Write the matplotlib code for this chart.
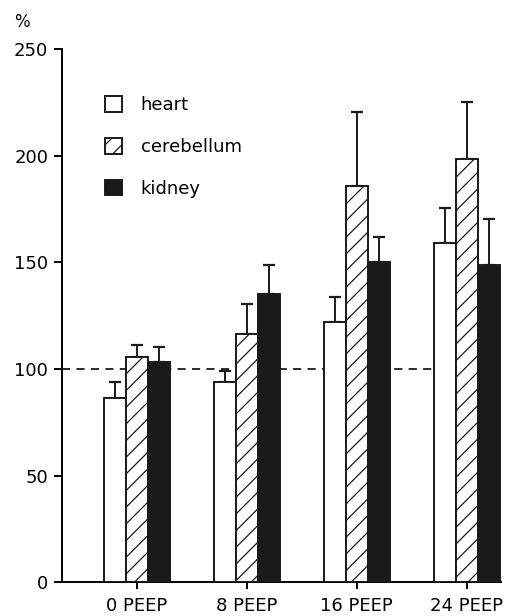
import matplotlib
matplotlib.use("Agg")
import matplotlib.pyplot as plt
import numpy as np
from matplotlib.patches import Patch

groups = ["0 PEEP", "8 PEEP", "16 PEEP", "24 PEEP"]
series = ["heart", "cerebellum", "kidney"]
heart = [86.3, 94.1, 122.0, 159.0]
heart_err = [7.5, 5.1, 12.0, 16.4]
cerebellum = [105.5, 116.5, 185.9, 198.4]
cerebellum_err = [5.8, 13.9, 34.8, 26.7]
kidney = [103.2, 135.2, 150.4, 148.8]
kidney_err = [7.0, 13.6, 11.4, 21.5]
yticks = [0, 50, 100, 150, 200, 250]
baseline = 100

plt.rcParams['font.family'] = ['DejaVu Sans']
plt.rcParams['hatch.linewidth'] = 0.9

fig = plt.figure(figsize=(5.19, 6.16), dpi=100)
ax = fig.add_axes([0.1195, 0.055, 0.8455, 0.865])

x = np.arange(len(groups))
w = 0.2
styles = [dict(facecolor="white", hatch=None),
          dict(facecolor="white", hatch="//"),
          dict(facecolor="#1a1a1a", hatch=None)]
vals = [heart, cerebellum, kidney]
errs = [heart_err, cerebellum_err, kidney_err]
for i, (v, e, st) in enumerate(zip(vals, errs, styles)):
    pos = x + (i - 1) * w
    ax.bar(pos, v, width=w, facecolor=st["facecolor"], hatch=st["hatch"],
           edgecolor="#1a1a1a", linewidth=1.4, zorder=3)
    ax.errorbar(pos, v, yerr=[np.zeros(len(e)), e], fmt="none",
                ecolor="#1a1a1a", elinewidth=1.4, capsize=4, capthick=1.6, zorder=2)

ax.hlines(baseline, -0.68, x[-1] - 1.5 * w, colors="#1a1a1a",
          linestyles=(0, (4.5, 3.5)), linewidth=1.3, zorder=1)

ax.set_xlim(-0.68, 3.31)
ax.set_ylim(0, 250)
ax.set_yticks(yticks)
ax.set_xticks(x)
ax.set_xticklabels(groups)
for s in ["top", "right"]:
    ax.spines[s].set_visible(False)
ax.spines["left"].set_linewidth(1.4)
ax.spines["bottom"].set_linewidth(1.4)
ax.tick_params(axis="y", direction="out", length=6, width=1.4, labelsize=13, pad=4)
ax.tick_params(axis="x", direction="out", length=5, width=1.4, labelsize=13, pad=6)

handles = [Patch(facecolor="white", edgecolor="#1a1a1a", linewidth=1.4),
           Patch(facecolor="white", edgecolor="#1a1a1a", hatch="//", linewidth=1.4),
           Patch(facecolor="#1a1a1a", edgecolor="#1a1a1a", linewidth=1.4)]
ax.legend(handles, series, loc="upper left", bbox_to_anchor=(0.097, 0.912),
          frameon=False, fontsize=13, handlelength=0.95, handleheight=0.95,
          labelspacing=1.32, handletextpad=1.05, borderpad=0, borderaxespad=0)

fig.text(22 / 519, 1 - 22 / 616, "%", fontsize=12, ha="center", va="center")

fig.savefig("out.png", dpi=100)
